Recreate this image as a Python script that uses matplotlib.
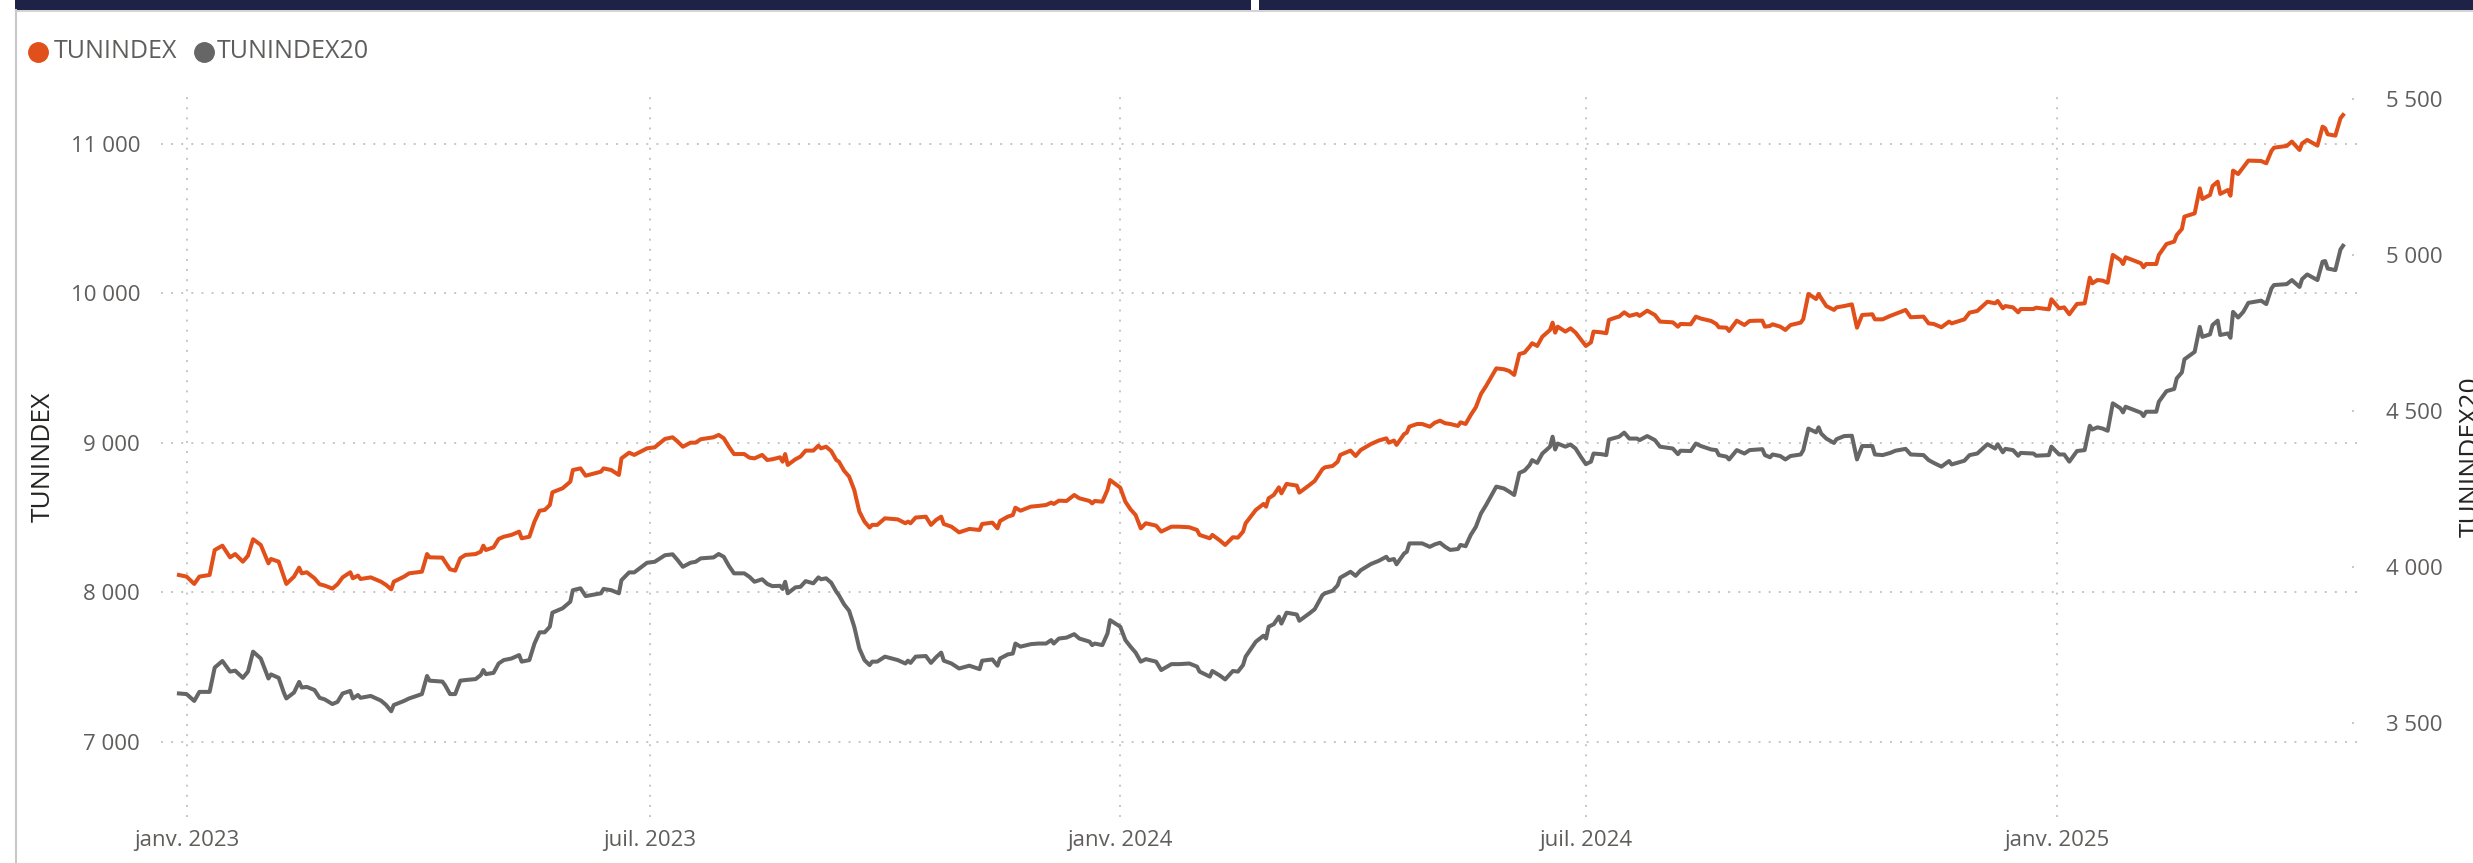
import matplotlib
matplotlib.use("Agg")
import matplotlib.pyplot as plt
from matplotlib.lines import Line2D
from matplotlib.patches import Rectangle
from matplotlib.ticker import FuncFormatter
import pandas as pd

plt.rcParams['font.family'] = ['Open Sans', 'DejaVu Sans']

# Data
dates = [
    '2022-12-29', '2023-01-01', '2023-01-04', '2023-01-06', '2023-01-10', '2023-01-12', '2023-01-15',
    '2023-01-18', '2023-01-20', '2023-01-23', '2023-01-25', '2023-01-27', '2023-01-30', '2023-02-02',
    '2023-02-03', '2023-02-06', '2023-02-08', '2023-02-09', '2023-02-12', '2023-02-14', '2023-02-15',
    '2023-02-17', '2023-02-20', '2023-02-22', '2023-02-24', '2023-02-27', '2023-03-01', '2023-03-03',
    '2023-03-06', '2023-03-07', '2023-03-09', '2023-03-10', '2023-03-14', '2023-03-18', '2023-03-20',
    '2023-03-22', '2023-03-23', '2023-03-27', '2023-03-29', '2023-04-03', '2023-04-05', '2023-04-06',
    '2023-04-11', '2023-04-12', '2023-04-14', '2023-04-16', '2023-04-18', '2023-04-20', '2023-04-24',
    '2023-04-26', '2023-04-27', '2023-04-28', '2023-05-01', '2023-05-03', '2023-05-05', '2023-05-08',
    '2023-05-11', '2023-05-12', '2023-05-15', '2023-05-17', '2023-05-19', '2023-05-21', '2023-05-23',
    '2023-05-24', '2023-05-28', '2023-05-31', '2023-06-01', '2023-06-04', '2023-06-06', '2023-06-12',
    '2023-06-13', '2023-06-16', '2023-06-19', '2023-06-20', '2023-06-23', '2023-06-25', '2023-06-30',
    '2023-07-03', '2023-07-07', '2023-07-10', '2023-07-12', '2023-07-14', '2023-07-17', '2023-07-19',
    '2023-07-21', '2023-07-26', '2023-07-28', '2023-07-30', '2023-08-01', '2023-08-03', '2023-08-07',
    '2023-08-09', '2023-08-11', '2023-08-14', '2023-08-16', '2023-08-18', '2023-08-21', '2023-08-22',
    '2023-08-23', '2023-08-24', '2023-08-27', '2023-08-29', '2023-08-31', '2023-09-03', '2023-09-05',
    '2023-09-06', '2023-09-08', '2023-09-10', '2023-09-12', '2023-09-13', '2023-09-15', '2023-09-17',
    '2023-09-19', '2023-09-21', '2023-09-23', '2023-09-25', '2023-09-26', '2023-09-28', '2023-10-01',
    '2023-10-06', '2023-10-09', '2023-10-10', '2023-10-11', '2023-10-13', '2023-10-17', '2023-10-19',
    '2023-10-21', '2023-10-23', '2023-10-24', '2023-10-27', '2023-10-30', '2023-11-03', '2023-11-07',
    '2023-11-08', '2023-11-12', '2023-11-14', '2023-11-15', '2023-11-18', '2023-11-20', '2023-11-21',
    '2023-11-23', '2023-11-27', '2023-11-30', '2023-12-03', '2023-12-05', '2023-12-06', '2023-12-08',
    '2023-12-11', '2023-12-14', '2023-12-16', '2023-12-20', '2023-12-21', '2023-12-22', '2023-12-25',
    '2023-12-27', '2023-12-28', '2024-01-01', '2024-01-03', '2024-01-05', '2024-01-07', '2024-01-09',
    '2024-01-11', '2024-01-15', '2024-01-17', '2024-01-21', '2024-01-24', '2024-01-28', '2024-01-31',
    '2024-02-01', '2024-02-05', '2024-02-06', '2024-02-09', '2024-02-11', '2024-02-14', '2024-02-16',
    '2024-02-18', '2024-02-19', '2024-02-23', '2024-02-26', '2024-02-27', '2024-02-28', '2024-03-01',
    '2024-03-03', '2024-03-04', '2024-03-06', '2024-03-10', '2024-03-11', '2024-03-15', '2024-03-17',
    '2024-03-20', '2024-03-21', '2024-03-24', '2024-03-26', '2024-03-27', '2024-03-31', '2024-04-02',
    '2024-04-04', '2024-04-08', '2024-04-11', '2024-04-14', '2024-04-15', '2024-04-17', '2024-04-18',
    '2024-04-21', '2024-04-22', '2024-04-23', '2024-04-26', '2024-04-28', '2024-05-01', '2024-05-03',
    '2024-05-05', '2024-05-07', '2024-05-09', '2024-05-12', '2024-05-13', '2024-05-15', '2024-05-17',
    '2024-05-19', '2024-05-21', '2024-05-23', '2024-05-27', '2024-05-30', '2024-06-01', '2024-06-03',
    '2024-06-05', '2024-06-07', '2024-06-09', '2024-06-10', '2024-06-12', '2024-06-14', '2024-06-17',
    '2024-06-18', '2024-06-19', '2024-06-20', '2024-06-23', '2024-06-25', '2024-06-27', '2024-06-29',
    '2024-07-01', '2024-07-03', '2024-07-04', '2024-07-07', '2024-07-09', '2024-07-10', '2024-07-13',
    '2024-07-14', '2024-07-16', '2024-07-18', '2024-07-21', '2024-07-22', '2024-07-25', '2024-07-28',
    '2024-07-30', '2024-08-04', '2024-08-06', '2024-08-07', '2024-08-11', '2024-08-13', '2024-08-15',
    '2024-08-19', '2024-08-21', '2024-08-22', '2024-08-25', '2024-08-26', '2024-08-29', '2024-09-01',
    '2024-09-03', '2024-09-06', '2024-09-08', '2024-09-09', '2024-09-11', '2024-09-12', '2024-09-15',
    '2024-09-17', '2024-09-19', '2024-09-23', '2024-09-24', '2024-09-26', '2024-09-29', '2024-09-30',
    '2024-10-01', '2024-10-03', '2024-10-06', '2024-10-07', '2024-10-10', '2024-10-13', '2024-10-15',
    '2024-10-17', '2024-10-21', '2024-10-22', '2024-10-25', '2024-10-28', '2024-10-30', '2024-11-03',
    '2024-11-05', '2024-11-10', '2024-11-12', '2024-11-14', '2024-11-17', '2024-11-20', '2024-11-21',
    '2024-11-26', '2024-11-28', '2024-12-01', '2024-12-05', '2024-12-08', '2024-12-09', '2024-12-11',
    '2024-12-12', '2024-12-15', '2024-12-17', '2024-12-18', '2024-12-23', '2024-12-24', '2024-12-29',
    '2024-12-30', '2025-01-02', '2025-01-04', '2025-01-06', '2025-01-09', '2025-01-12', '2025-01-14',
    '2025-01-15', '2025-01-17', '2025-01-19', '2025-01-21', '2025-01-23', '2025-01-26', '2025-01-27',
    '2025-01-28', '2025-02-03', '2025-02-04', '2025-02-05', '2025-02-09', '2025-02-10', '2025-02-13',
    '2025-02-16', '2025-02-17', '2025-02-19', '2025-02-20', '2025-02-24', '2025-02-26', '2025-02-27',
    '2025-03-02', '2025-03-03', '2025-03-05', '2025-03-06', '2025-03-09', '2025-03-10', '2025-03-11',
    '2025-03-13', '2025-03-15', '2025-03-17', '2025-03-22', '2025-03-24', '2025-03-26', '2025-03-27',
    '2025-04-01', '2025-04-03', '2025-04-06', '2025-04-07', '2025-04-09', '2025-04-13', '2025-04-15',
    '2025-04-16', '2025-04-17', '2025-04-20', '2025-04-22', '2025-04-23',
]

tunindex = [
    8117, 8106, 8057, 8106, 8117, 8284, 8313, 8235, 8257, 8206, 8246, 8356, 8318, 8195,
    8224, 8206, 8106, 8057, 8106, 8166, 8128, 8135, 8095, 8055, 8046, 8026, 8055, 8101,
    8135, 8095, 8113, 8090, 8101, 8072, 8050, 8021, 8072, 8106, 8128, 8139, 8257, 8235,
    8233, 8206, 8155, 8146, 8229, 8251, 8257, 8273, 8313, 8284, 8302, 8358, 8373, 8385,
    8407, 8362, 8373, 8474, 8547, 8552, 8585, 8670, 8697, 8741, 8819, 8830, 8781, 8808,
    8830, 8819, 8786, 8897, 8935, 8920, 8964, 8971, 9027, 9038, 9009, 8975, 9002, 9002,
    9025, 9038, 9054, 9031, 8975, 8926, 8926, 8902, 8897, 8920, 8886, 8891, 8904, 8875,
    8926, 8853, 8891, 8909, 8949, 8949, 8982, 8964, 8975, 8946, 8886, 8875, 8815, 8775,
    8686, 8541, 8474, 8434, 8452, 8452, 8496, 8489, 8463, 8474, 8463, 8501, 8507, 8452,
    8485, 8507, 8458, 8440, 8402, 8425, 8418, 8458, 8467, 8429, 8478, 8507, 8518, 8567,
    8547, 8574, 8579, 8585, 8601, 8592, 8614, 8612, 8652, 8630, 8612, 8596, 8612, 8607,
    8686, 8752, 8701, 8607, 8556, 8518, 8429, 8463, 8447, 8407, 8440, 8440, 8436, 8418,
    8385, 8362, 8385, 8347, 8318, 8369, 8367, 8407, 8463, 8552, 8592, 8574, 8630, 8652,
    8703, 8663, 8726, 8715, 8668, 8719, 8746, 8824, 8837, 8846, 8875, 8920, 8949, 8913,
    8953, 8993, 9016, 9031, 9002, 9016, 8987, 9060, 9069, 9109, 9127, 9127, 9109, 9136,
    9149, 9132, 9127, 9114, 9138, 9127, 9187, 9239, 9328, 9381, 9499, 9493, 9482, 9455,
    9595, 9604, 9644, 9667, 9649, 9711, 9756, 9805, 9738, 9778, 9745, 9767, 9738, 9693,
    9649, 9673, 9745, 9740, 9734, 9823, 9841, 9845, 9874, 9850, 9863, 9850, 9885, 9856,
    9812, 9807, 9778, 9796, 9794, 9845, 9832, 9816, 9796, 9774, 9771, 9749, 9818, 9789,
    9816, 9818, 9818, 9778, 9783, 9794, 9778, 9756, 9789, 9805, 9829, 9997, 9963, 9997,
    9968, 9916, 9890, 9907, 9916, 9927, 9771, 9856, 9861, 9827, 9827, 9850, 9863, 9890,
    9841, 9845, 9800, 9796, 9774, 9812, 9800, 9827, 9872, 9883, 9945, 9934, 9950, 9901,
    9916, 9907, 9874, 9896, 9896, 9905, 9894, 9961, 9901, 9907, 9861, 9930, 9934, 10106,
    10068, 10090, 10086, 10072, 10258, 10224, 10197, 10242, 10202, 10175, 10197, 10197, 10258, 10331,
    10347, 10391, 10431, 10514, 10536, 10703, 10632, 10659, 10719, 10748, 10666, 10692, 10654, 10822,
    10799, 10844, 10889, 10886, 10871, 10953, 10975, 10987, 11016, 10960, 11004, 11027, 10989, 11116,
    11105, 11065, 11056, 11172, 11194,
]

tunindex20 = [
    3595, 3593, 3571, 3600, 3600, 3678, 3699, 3665, 3668, 3645, 3665, 3729, 3707, 3643,
    3656, 3645, 3598, 3579, 3598, 3632, 3614, 3616, 3606, 3581, 3576, 3561, 3568, 3595,
    3603, 3579, 3590, 3581, 3587, 3572, 3558, 3538, 3558, 3571, 3579, 3593, 3651, 3636,
    3633, 3622, 3593, 3593, 3636, 3638, 3641, 3654, 3670, 3657, 3661, 3691, 3702, 3707,
    3718, 3697, 3702, 3755, 3791, 3791, 3809, 3854, 3868, 3889, 3926, 3932, 3907, 3916,
    3930, 3926, 3916, 3958, 3983, 3983, 4014, 4017, 4038, 4041, 4022, 4001, 4014, 4017,
    4028, 4031, 4042, 4033, 4004, 3980, 3980, 3969, 3953, 3961, 3946, 3939, 3940, 3930,
    3953, 3916, 3935, 3937, 3955, 3948, 3967, 3961, 3964, 3950, 3921, 3910, 3881, 3860,
    3809, 3739, 3702, 3686, 3697, 3697, 3713, 3702, 3691, 3700, 3693, 3713, 3715, 3693,
    3711, 3726, 3700, 3691, 3675, 3684, 3673, 3700, 3704, 3684, 3707, 3720, 3723, 3755,
    3745, 3753, 3755, 3755, 3766, 3755, 3771, 3774, 3785, 3771, 3761, 3750, 3755, 3750,
    3787, 3830, 3809, 3766, 3745, 3726, 3697, 3705, 3697, 3670, 3689, 3689, 3691, 3681,
    3665, 3649, 3667, 3652, 3640, 3667, 3665, 3686, 3713, 3761, 3780, 3771, 3809, 3817,
    3841, 3819, 3854, 3848, 3828, 3852, 3865, 3910, 3916, 3924, 3942, 3966, 3985, 3972,
    3990, 4010, 4020, 4033, 4022, 4026, 4009, 4044, 4049, 4076, 4076, 4076, 4065, 4073,
    4078, 4065, 4055, 4058, 4071, 4067, 4103, 4129, 4172, 4199, 4258, 4252, 4242, 4231,
    4302, 4309, 4327, 4343, 4334, 4364, 4386, 4418, 4377, 4396, 4386, 4393, 4380, 4354,
    4330, 4338, 4364, 4362, 4359, 4409, 4416, 4418, 4431, 4412, 4412, 4407, 4420, 4407,
    4386, 4380, 4362, 4373, 4372, 4396, 4388, 4377, 4375, 4359, 4354, 4345, 4375, 4364,
    4375, 4377, 4378, 4359, 4352, 4361, 4356, 4345, 4356, 4361, 4375, 4444, 4432, 4448,
    4428, 4412, 4398, 4410, 4420, 4421, 4345, 4388, 4388, 4361, 4359, 4366, 4373, 4379,
    4361, 4359, 4343, 4334, 4322, 4340, 4329, 4341, 4359, 4364, 4394, 4380, 4394, 4368,
    4379, 4375, 4357, 4366, 4364, 4357, 4359, 4386, 4361, 4361, 4338, 4372, 4375, 4453,
    4441, 4448, 4444, 4437, 4525, 4509, 4496, 4514, 4495, 4484, 4498, 4498, 4530, 4564,
    4571, 4605, 4624, 4666, 4690, 4770, 4738, 4746, 4776, 4790, 4744, 4749, 4735, 4818,
    4800, 4818, 4847, 4854, 4843, 4893, 4904, 4907, 4920, 4898, 4923, 4938, 4920, 4979,
    4981, 4957, 4952, 5018, 5030,
]

left_ticks = [7000, 8000, 9000, 10000, 11000]
right_ticks = [3500, 4000, 4500, 5000, 5500]
x_ticks = ['2023-01-01', '2023-07-01', '2024-01-01', '2024-07-01', '2025-01-01']
x_labels = ['janv. 2023', 'juil. 2023', 'janv. 2024', 'juil. 2024', 'janv. 2025']
series_names = ['TUNINDEX', 'TUNINDEX20']

ORANGE = '#E1501A'
GRAY = '#666666'
TICK_COLOR = '#605E5C'
TITLE_COLOR = '#252423'
GRID_COLOR = '#C8C6C4'
NAVY = '#1F2247'
DOTS = (0, (1, 4.2))

W, H = 2473, 863
fig = plt.figure(figsize=(W / 100, H / 100), dpi=100)
fig.patch.set_facecolor('white')

# plot area in pixels: x 161..2362, y 96..817
ax = fig.add_axes([161 / W, 1 - 817 / H, (2362 - 161) / W, (817 - 96) / H])
ax2 = ax.twinx()

x = pd.to_datetime(dates)
ax.plot(x, tunindex, color=ORANGE, lw=2.9, solid_joinstyle='round', zorder=3)
ax2.plot(x, tunindex20, color=GRAY, lw=2.9, solid_joinstyle='round', zorder=3)

ax.set_xlim(pd.Timestamp('2022-12-22'), pd.Timestamp('2025-04-30 10:00'))
ax.set_ylim(6498, 11321)
ax2.set_ylim(3199, 5510)

fmt = FuncFormatter(lambda v, p: f"{v:,.0f}".replace(',', ' '))
ax.set_yticks(left_ticks)
ax.yaxis.set_major_formatter(fmt)
ax2.set_yticks(right_ticks)
ax2.yaxis.set_major_formatter(fmt)
ax.set_xticks(pd.to_datetime(x_ticks))
ax.set_xticklabels(x_labels)

for a in (ax, ax2):
    for s in a.spines.values():
        s.set_visible(False)
ax.tick_params(axis='y', length=0, pad=15, labelsize=16, labelcolor=TICK_COLOR)
ax2.tick_params(axis='y', length=0, pad=17, labelsize=16, labelcolor=TICK_COLOR)
ax.tick_params(axis='x', length=0, pad=9, labelsize=16, labelcolor=TICK_COLOR)

ax.grid(True, axis='both', color=GRID_COLOR, linestyle=DOTS, lw=1.4)
ax.set_axisbelow(True)

# short dotted stubs next to the right-hand ticks
for v in right_ticks:
    ax2.plot([1 - 10 / 2201, 1.0], [v, v], transform=ax2.get_yaxis_transform(),
             color=GRID_COLOR, linestyle=DOTS, lw=1.4, clip_on=False)

# axis titles
fig.text(43 / W, 1 - 457 / H, series_names[0], rotation=90, ha='center', va='center',
         fontsize=19, color=TITLE_COLOR)
fig.text(2471 / W, 1 - 457 / H, series_names[1], rotation=90, ha='center', va='center',
         fontsize=19, color=TITLE_COLOR)

# legend
for cx, tx, name, col in [(38, 54, series_names[0], ORANGE), (204, 217, series_names[1], GRAY)]:
    fig.add_artist(Line2D([cx / W], [1 - 52 / H], marker='o', markersize=14, color=col,
                          linestyle='', transform=fig.transFigure))
    fig.text(tx / W, 1 - 52 / H, name, ha='left', va='center', fontsize=18, color=TICK_COLOR)

# card frame: top bars and left border
fig.add_artist(Rectangle((15 / W, 1 - 12 / H), (W - 15) / W, 2 / H, color='#D4D4D4',
                         transform=fig.transFigure, lw=0))
fig.add_artist(Rectangle((15 / W, 1 - 10 / H), (1251 - 15) / W, 10 / H, color=NAVY,
                         transform=fig.transFigure, lw=0))
fig.add_artist(Rectangle((1259 / W, 1 - 10 / H), (W - 1259) / W, 10 / H, color=NAVY,
                         transform=fig.transFigure, lw=0))
fig.add_artist(Line2D([16 / W, 16 / W], [0, 1 - 10 / H], color='#C8C8C8', lw=1.5,
                      transform=fig.transFigure))

fig.savefig('out.png', dpi=100)
